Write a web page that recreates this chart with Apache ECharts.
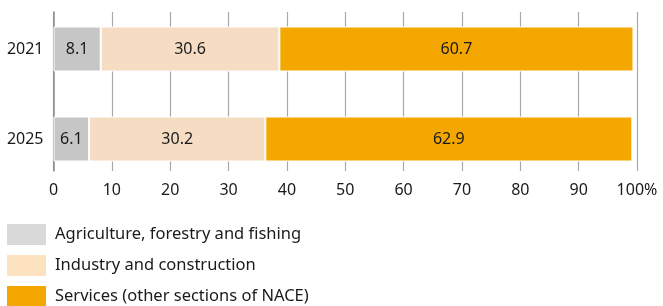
<!DOCTYPE html>
<html lang="en" style="height: 100%">
<head>
  <meta charset="UTF-8" />
  <title>Employment by sector</title>
  <script src="https://cdn.jsdelivr.net/npm/echarts@6/dist/echarts.min.js"></script>
</head>
<body style="height: 100%; margin: 0; background: #fff">
  <div id="container" style="width: 663px; height: 306px"></div>
  <script type="text/javascript">
    // data
    var years = ["2021", "2025"];
    var agriculture = [8.1, 6.1];
    var industry = [30.6, 30.2];
    var services = [60.7, 62.9];
    var seriesNames = [
      "Agriculture, forestry and fishing",
      "Industry and construction",
      "Services (other sections of NACE)"
    ];

    var font = "'Noto Sans', 'Open Sans', sans-serif";
    var textColor = "#1a1a1a";

    var myChart = echarts.init(document.getElementById("container"), null, { renderer: "canvas" });

    function barSeries(name, data, color) {
      return {
        name: name,
        type: "bar",
        stack: "total",
        xAxisIndex: 0,
        yAxisIndex: 0,
        barWidth: 45,
        data: data,
        itemStyle: { color: color, borderColor: "#fff", borderWidth: 1 },
        label: {
          show: true,
          position: "inside",
          color: textColor,
          fontFamily: font,
          fontSize: 16,
          formatter: function (p) { return p.value.toFixed(1); }
        },
        emphasis: { disabled: true }
      };
    }

    var option = {
      animation: false,
      grid: [
        // bars
        { left: 53.5, right: 26, top: 4, height: 180 },
        // grid lines and value labels
        { left: 53.5, right: 26, top: 12, height: 159 }
      ],
      xAxis: [
        { gridIndex: 0, type: "value", min: 0, max: 100, show: false },
        {
          gridIndex: 1, type: "value", min: 0, max: 100, interval: 10,
          axisLine: { show: false },
          axisTick: { show: false },
          splitLine: { show: true, lineStyle: { color: "#a8a8a8", width: 1.2 } },
          axisLabel: {
            margin: 11,
            color: textColor,
            fontFamily: font,
            fontSize: 16,
            formatter: function (v) { return v === 100 ? "100%" : v; }
          }
        }
      ],
      yAxis: [
        {
          gridIndex: 0, type: "category", inverse: true, data: years,
          axisLine: { show: false },
          axisTick: { show: false },
          axisLabel: { margin: 10, color: textColor, fontFamily: font, fontSize: 16 }
        },
        {
          gridIndex: 1, type: "value", min: 0, max: 1,
          axisLine: { show: true, lineStyle: { color: "#8c8c8c", width: 1.5 } },
          axisTick: { show: false },
          axisLabel: { show: false },
          splitLine: { show: false }
        }
      ],
      legend: {
        orient: "vertical",
        left: 7,
        top: 224,
        height: 100,
        padding: 0,
        itemWidth: 39,
        itemHeight: 21,
        itemGap: 10,
        icon: "rect",
        selectedMode: false,
        textStyle: { color: textColor, fontFamily: font, fontSize: 16.5, padding: [0, 0, 0, 4] },
        data: [
          { name: seriesNames[0], itemStyle: { color: "#d9d9d9", borderWidth: 0 } },
          { name: seriesNames[1], itemStyle: { color: "#fde2c0", borderWidth: 0 } },
          { name: seriesNames[2], itemStyle: { color: "#f4a700", borderWidth: 0 } }
        ]
      },
      series: [
        barSeries(seriesNames[0], agriculture, "#c6c6c6"),
        barSeries(seriesNames[1], industry, "#f6dcc3"),
        barSeries(seriesNames[2], services, "#f4a700")
      ]
    };

    myChart.setOption(option);
    window.addEventListener("resize", myChart.resize);
  </script>
</body>
</html>
